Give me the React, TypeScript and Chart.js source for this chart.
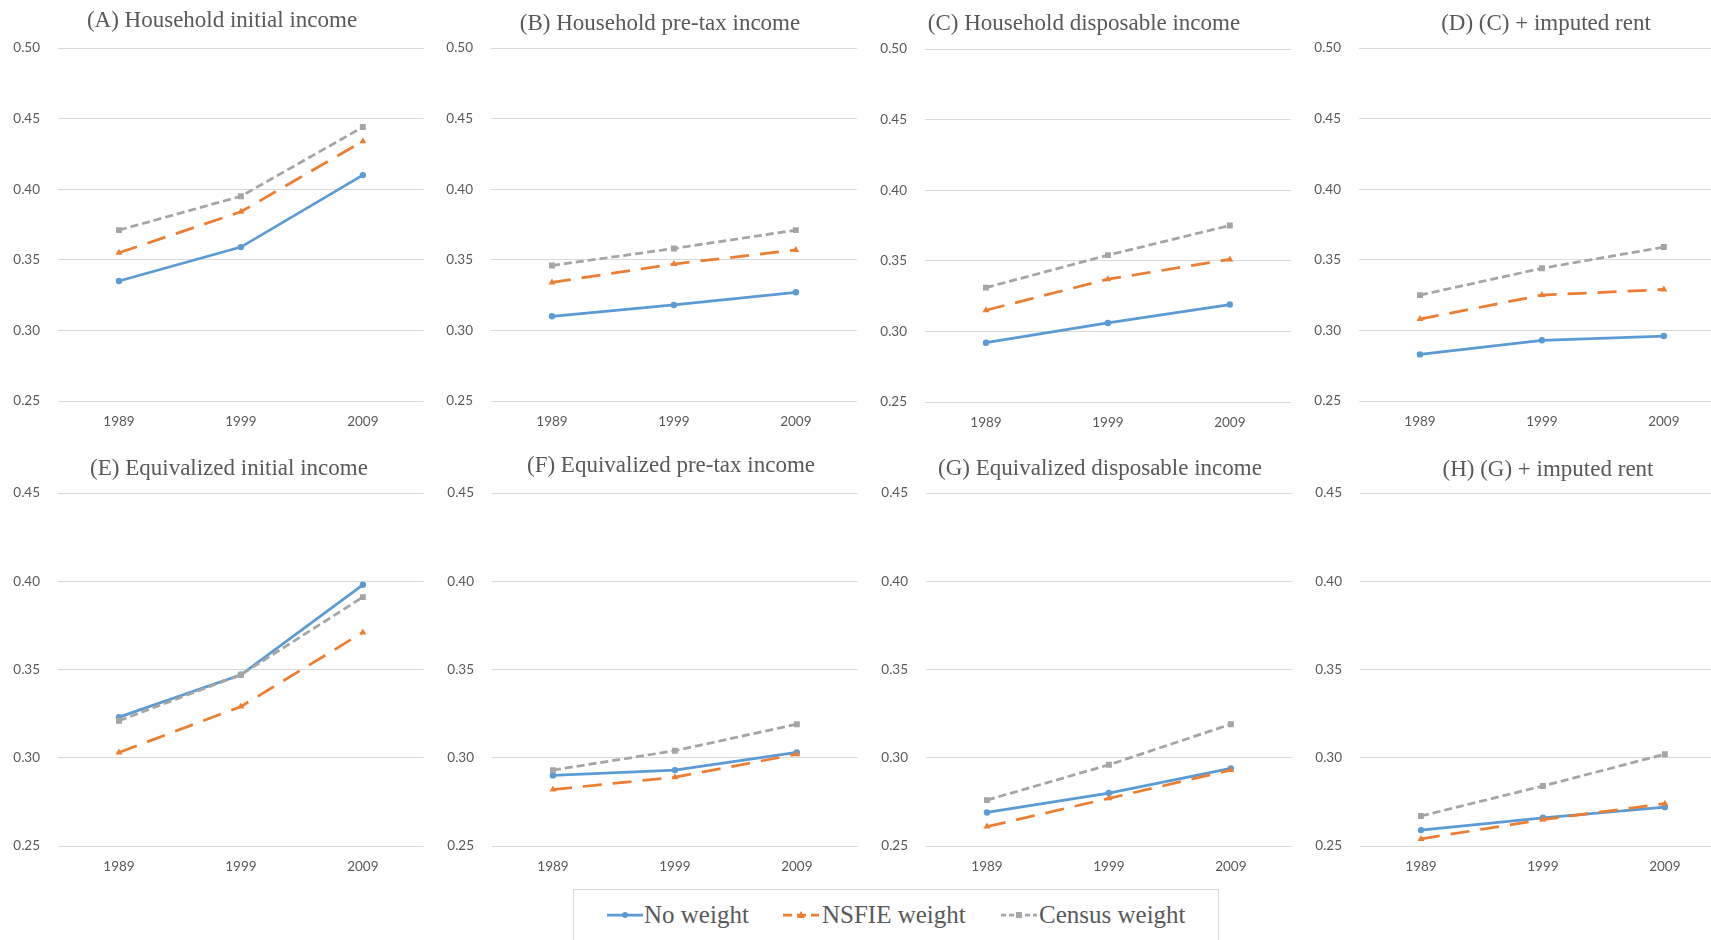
import React, { useEffect, useRef } from 'react';
import { Chart, registerables } from 'chart.js';

Chart.register(...registerables);

// ---------- data ----------
const YEARS = ['1989', '1999', '2009'];
const SERIES_NAMES = ['No weight', 'NSFIE weight', 'Census weight'];

const A_NO_WEIGHT = [0.335, 0.359, 0.41];
const A_NSFIE = [0.355, 0.384, 0.434];
const A_CENSUS = [0.371, 0.395, 0.444];

const B_NO_WEIGHT = [0.31, 0.318, 0.327];
const B_NSFIE = [0.334, 0.347, 0.357];
const B_CENSUS = [0.346, 0.358, 0.371];

const C_NO_WEIGHT = [0.292, 0.306, 0.319];
const C_NSFIE = [0.315, 0.337, 0.351];
const C_CENSUS = [0.331, 0.354, 0.375];

const D_NO_WEIGHT = [0.283, 0.293, 0.296];
const D_NSFIE = [0.308, 0.325, 0.329];
const D_CENSUS = [0.325, 0.344, 0.359];

const E_NO_WEIGHT = [0.323, 0.347, 0.398];
const E_NSFIE = [0.303, 0.329, 0.371];
const E_CENSUS = [0.321, 0.347, 0.391];

const F_NO_WEIGHT = [0.29, 0.293, 0.303];
const F_NSFIE = [0.282, 0.289, 0.302];
const F_CENSUS = [0.293, 0.304, 0.319];

const G_NO_WEIGHT = [0.269, 0.28, 0.294];
const G_NSFIE = [0.261, 0.277, 0.293];
const G_CENSUS = [0.276, 0.296, 0.319];

const H_NO_WEIGHT = [0.259, 0.266, 0.272];
const H_NSFIE = [0.254, 0.265, 0.274];
const H_CENSUS = [0.267, 0.284, 0.302];

const TITLES = [
  '(A) Household initial income',
  '(B) Household pre-tax income',
  '(C) Household disposable income',
  '(D) (C) + imputed rent',
  '(E) Equivalized initial income',
  '(F) Equivalized pre-tax income',
  '(G) Equivalized disposable income',
  '(H) (G) + imputed rent',
];

const Y_MIN = 0.25;
const Y_MAX_TOP = 0.5;
const Y_MAX_BOTTOM = 0.45;
const Y_STEP = 0.05;

// ---------- styles ----------
const BLUE = '#5B9BD5';
const ORANGE = '#ED7D31';
const GRAY = '#A5A5A5';
const TEXT = '#595959';
const GRID = '#D9D9D9';

type PanelDef = {
  title: string;
  series: number[][];
  yMax: number;
  plotLeft: number;
  top: number;
  titleX: number;
  titleY: number;
};

const PANELS: PanelDef[] = [
  { title: TITLES[0], series: [A_NO_WEIGHT, A_NSFIE, A_CENSUS], yMax: Y_MAX_TOP, plotLeft: 58, top: 0, titleX: 222, titleY: 20 },
  { title: TITLES[1], series: [B_NO_WEIGHT, B_NSFIE, B_CENSUS], yMax: Y_MAX_TOP, plotLeft: 491, top: 0, titleX: 660, titleY: 23 },
  { title: TITLES[2], series: [C_NO_WEIGHT, C_NSFIE, C_CENSUS], yMax: Y_MAX_TOP, plotLeft: 925, top: 1, titleX: 1084, titleY: 23 },
  { title: TITLES[3], series: [D_NO_WEIGHT, D_NSFIE, D_CENSUS], yMax: Y_MAX_TOP, plotLeft: 1359, top: 0, titleX: 1546, titleY: 23 },
  { title: TITLES[4], series: [E_NO_WEIGHT, E_NSFIE, E_CENSUS], yMax: Y_MAX_BOTTOM, plotLeft: 58, top: 445, titleX: 229, titleY: 468 },
  { title: TITLES[5], series: [F_NO_WEIGHT, F_NSFIE, F_CENSUS], yMax: Y_MAX_BOTTOM, plotLeft: 492, top: 445, titleX: 671, titleY: 465 },
  { title: TITLES[6], series: [G_NO_WEIGHT, G_NSFIE, G_CENSUS], yMax: Y_MAX_BOTTOM, plotLeft: 926, top: 445, titleX: 1100, titleY: 468 },
  { title: TITLES[7], series: [H_NO_WEIGHT, H_NSFIE, H_CENSUS], yMax: Y_MAX_BOTTOM, plotLeft: 1360, top: 445, titleX: 1548, titleY: 469 },
];

const Y_AXIS_W = 58;
const PLOT_W = 367;
const RIGHT_EXTRA = 3; // chart.js keeps a small right padding for the x labels
const CANVAS_W = Y_AXIS_W + PLOT_W + RIGHT_EXTRA;
const CANVAS_H = 440;
const PAD_TOP = 48;
const X_AXIS_H = 39;

const TICK_FONT = { family: 'Lato, "Open Sans", sans-serif', size: 13.5 };
const SERIF = '"Liberation Serif", "Times New Roman", serif';

function Panel({ def }: { def: PanelDef }) {
  const ref = useRef<HTMLCanvasElement | null>(null);
  useEffect(() => {
    if (!ref.current) return;
    const styles = [
      { color: BLUE, dash: [] as number[], point: 'circle', r: 3.2, order: 2 },
      { color: ORANGE, dash: [19, 11], point: 'triangle', r: 4, order: 1 },
      { color: GRAY, dash: [8, 4], point: 'rect', r: 4.2, order: 0 },
    ];
    const chart = new Chart(ref.current, {
      type: 'line',
      data: {
        labels: YEARS,
        datasets: def.series.map((vals, i) => ({
          label: SERIES_NAMES[i],
          data: vals,
          borderColor: styles[i].color,
          backgroundColor: styles[i].color,
          pointBackgroundColor: styles[i].color,
          pointBorderColor: styles[i].color,
          borderWidth: 2.75,
          borderDash: styles[i].dash,
          pointStyle: styles[i].point as any,
          pointRadius: styles[i].r,
          pointBorderWidth: 0,
          tension: 0,
          fill: false,
          order: styles[i].order,
        })),
      },
      options: {
        animation: false,
        responsive: false,
        maintainAspectRatio: false,
        events: [],
        layout: { padding: { top: PAD_TOP, left: 0, right: 0, bottom: 0 } },
        plugins: {
          legend: { display: false },
          title: { display: false },
          tooltip: { enabled: false },
        },
        scales: {
          x: {
            type: 'category',
            offset: true,
            grid: { display: false, drawTicks: false },
            border: { display: false },
            ticks: { color: TEXT, font: TICK_FONT, padding: 13, maxRotation: 0 },
            afterFit: (s: any) => {
              s.height = X_AXIS_H;
              s.paddingLeft = 0;
              s.paddingRight = 0;
            },
          },
          y: {
            min: Y_MIN,
            max: def.yMax,
            grid: { color: GRID, lineWidth: 1, drawTicks: false },
            border: { display: false },
            ticks: {
              stepSize: Y_STEP,
              color: TEXT,
              font: TICK_FONT,
              padding: 18,
              callback: (v: any) => Number(v).toFixed(2),
            },
            afterFit: (s: any) => {
              s.width = Y_AXIS_W;
            },
          },
        },
      },
    });
    return () => chart.destroy();
  }, [def]);

  return (
    <>
      <canvas
        ref={ref}
        width={CANVAS_W}
        height={CANVAS_H}
        style={{
          position: 'absolute',
          left: def.plotLeft - Y_AXIS_W,
          top: def.top,
          width: CANVAS_W,
          height: CANVAS_H,
        }}
      />
      <div
        style={{
          position: 'absolute',
          left: def.titleX - 250,
          top: def.titleY - 15,
          width: 500,
          height: 30,
          lineHeight: '30px',
          textAlign: 'center',
          fontFamily: SERIF,
          fontSize: 23,
          color: TEXT,
          whiteSpace: 'nowrap',
        }}
      >
        {def.title}
      </div>
    </>
  );
}

function LegendSample({ kind }: { kind: number }) {
  const color = [BLUE, ORANGE, GRAY][kind];
  const dash = ['', '9,5', '5,3'][kind];
  return (
    <svg width={36} height={14} style={{ display: 'block' }}>
      <line x1={0} y1={7} x2={36} y2={7} stroke={color} strokeWidth={2.75} strokeDasharray={dash || undefined} />
      {kind === 0 && <circle cx={18} cy={7} r={3} fill={color} />}
      {kind === 1 && <polygon points="18,3 22,10 14,10" fill={color} />}
      {kind === 2 && <rect x={15} y={4} width={6} height={6} fill={color} />}
    </svg>
  );
}

const LEGEND_ITEMS = [
  { sampleX: 607, textX: 644 },
  { sampleX: 783, textX: 822 },
  { sampleX: 1001, textX: 1039 },
];

export default function App() {
  return (
    <div
      style={{
        position: 'fixed',
        left: 0,
        top: 0,
        width: 1711,
        height: 940,
        overflow: 'hidden',
        background: '#ffffff',
      }}
    >
      {PANELS.map((p, i) => (
        <Panel key={i} def={p} />
      ))}
      <div
        style={{
          position: 'absolute',
          left: 573,
          top: 889,
          width: 646,
          height: 70,
          border: '1px solid #D9D9D9',
          boxSizing: 'border-box',
        }}
      />
      {LEGEND_ITEMS.map((it, i) => (
        <React.Fragment key={i}>
          <div style={{ position: 'absolute', left: it.sampleX, top: 908 }}>
            <LegendSample kind={i} />
          </div>
          <div
            style={{
              position: 'absolute',
              left: it.textX,
              top: 899,
              height: 32,
              lineHeight: '32px',
              fontFamily: SERIF,
              fontSize: 25,
              color: TEXT,
              whiteSpace: 'nowrap',
            }}
          >
            {SERIES_NAMES[i]}
          </div>
        </React.Fragment>
      ))}
    </div>
  );
}
